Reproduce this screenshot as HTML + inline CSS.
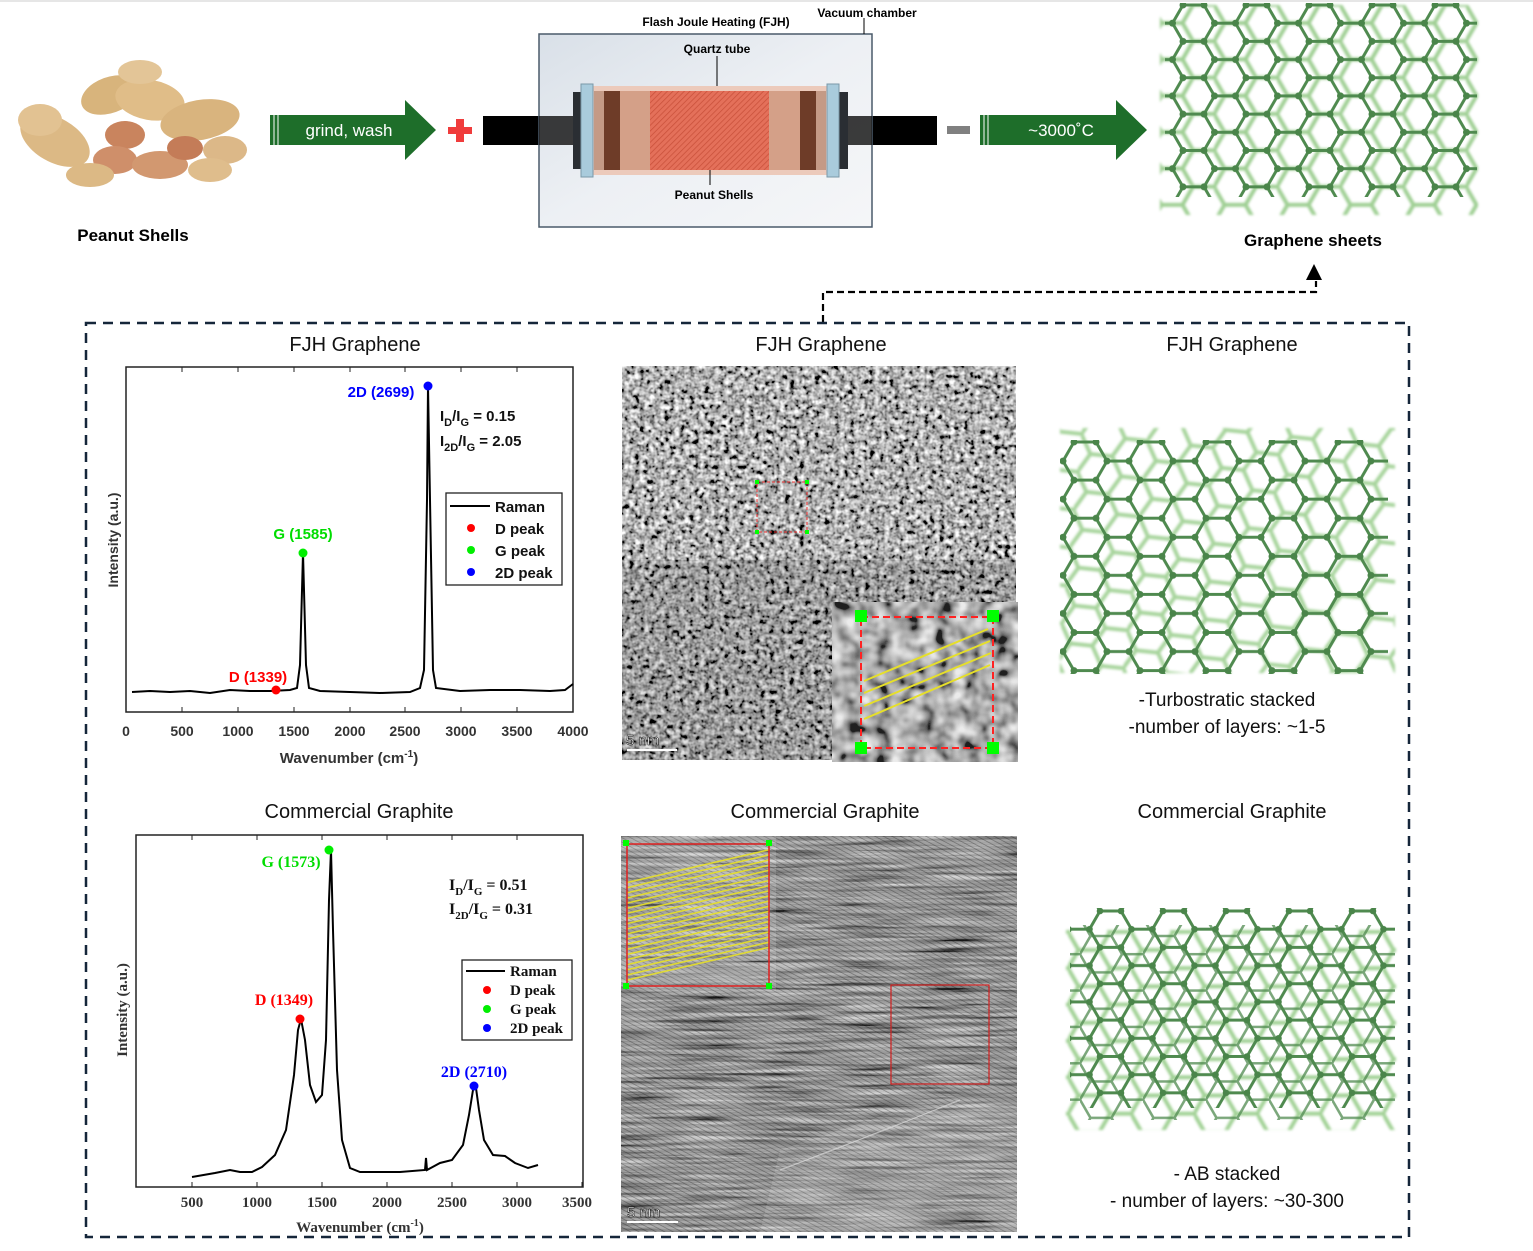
<!DOCTYPE html>
<html><head><meta charset="utf-8"><style>
html,body{margin:0;padding:0;background:#fff;}
svg{display:block;}
.s{font-family:"Liberation Sans",sans-serif;}
.r{font-family:"Liberation Serif",serif;}
</style></head><body>
<svg width="1533" height="1251" viewBox="0 0 1533 1251" xmlns="http://www.w3.org/2000/svg">
<defs>
 <pattern id="hexD" patternUnits="userSpaceOnUse" width="63" height="36.37" x="1172.5" y="5">
  <g stroke="#4f8a4f" stroke-width="3" fill="none">
   <path d="M0,18.19 L10.5,0 L31.5,0 L42,18.19 L31.5,36.37 L10.5,36.37 Z M42,18.19 L63,18.19"/>
  </g>
  <g fill="#4a854a"><circle cx="0" cy="18.19" r="3.5"/><circle cx="63" cy="18.19" r="3.5"/><circle cx="10.5" cy="0" r="3.5"/><circle cx="31.5" cy="0" r="3.5"/><circle cx="42" cy="18.19" r="3.5"/><circle cx="10.5" cy="36.37" r="3.5"/><circle cx="31.5" cy="36.37" r="3.5"/></g>
 </pattern>
 <pattern id="hexL" patternUnits="userSpaceOnUse" width="63" height="36.37" x="1151" y="23">
  <g stroke="#7fbf6f" stroke-width="4" fill="none">
   <path d="M0,18.19 L10.5,0 L31.5,0 L42,18.19 L31.5,36.37 L10.5,36.37 Z M42,18.19 L63,18.19"/>
  </g>
 </pattern>
 <pattern id="hexD2" patternUnits="userSpaceOnUse" width="66" height="38.1" x="1063" y="442">
  <g stroke="#4f8a4f" stroke-width="3" fill="none"><path d="M0,19.05 L11,0 L33,0 L44,19.05 L33,38.1 L11,38.1 Z M44,19.05 L66,19.05"/></g>
  <g fill="#4a854a"><circle cx="0" cy="19.05" r="3.5"/><circle cx="66" cy="19.05" r="3.5"/><circle cx="11" cy="0" r="3.5"/><circle cx="33" cy="0" r="3.5"/><circle cx="44" cy="19.05" r="3.5"/><circle cx="11" cy="38.1" r="3.5"/><circle cx="33" cy="38.1" r="3.5"/></g>
 </pattern>
 <pattern id="hexL2" patternUnits="userSpaceOnUse" width="66" height="38.1" x="1070" y="430" patternTransform="rotate(6 1220 550)">
  <g stroke="#82c272" stroke-width="4" fill="none"><path d="M0,19.05 L11,0 L33,0 L44,19.05 L33,38.1 L11,38.1 Z M44,19.05 L66,19.05"/></g>
 </pattern>
 <pattern id="hexD3" patternUnits="userSpaceOnUse" width="63" height="36.37" x="1089.5" y="911">
  <g stroke="#4f8a4f" stroke-width="3" fill="none"><path d="M0,18.19 L10.5,0 L31.5,0 L42,18.19 L31.5,36.37 L10.5,36.37 Z M42,18.19 L63,18.19"/></g>
  <g fill="#4a854a"><circle cx="0" cy="18.19" r="3.3"/><circle cx="63" cy="18.19" r="3.3"/><circle cx="10.5" cy="0" r="3.3"/><circle cx="31.5" cy="0" r="3.3"/><circle cx="42" cy="18.19" r="3.3"/><circle cx="10.5" cy="36.37" r="3.3"/><circle cx="31.5" cy="36.37" r="3.3"/></g>
 </pattern>
 <pattern id="hexD3b" patternUnits="userSpaceOnUse" width="63" height="36.37" x="1080" y="936">
  <g stroke="#4f8a4f" stroke-width="2.6" fill="none"><path d="M0,18.19 L10.5,0 L31.5,0 L42,18.19 L31.5,36.37 L10.5,36.37 Z M42,18.19 L63,18.19"/></g>
 </pattern>
 <pattern id="hexL3" patternUnits="userSpaceOnUse" width="63" height="36.37" x="1068" y="950">
  <g stroke="#82c272" stroke-width="4" fill="none"><path d="M0,18.19 L10.5,0 L31.5,0 L42,18.19 L31.5,36.37 L10.5,36.37 Z M42,18.19 L63,18.19"/></g>
 </pattern>
 <filter id="blur1"><feGaussianBlur stdDeviation="1.2"/></filter>
 <filter id="tem1" x="0" y="0" width="100%" height="100%">
  <feTurbulence type="fractalNoise" baseFrequency="0.2" numOctaves="2" seed="3"/>
  <feColorMatrix type="matrix" values="0.33 0.33 0.33 0 0 0.33 0.33 0.33 0 0 0.33 0.33 0.33 0 0 0 0 0 0 1"/>
  <feComponentTransfer><feFuncR type="linear" slope="3.2" intercept="-1.15"/><feFuncG type="linear" slope="3.2" intercept="-1.15"/><feFuncB type="linear" slope="3.2" intercept="-1.15"/></feComponentTransfer>
 </filter>
 <filter id="tem2" x="0" y="0" width="100%" height="100%">
  <feTurbulence type="fractalNoise" baseFrequency="0.012 0.3" numOctaves="3" seed="7"/>
  <feColorMatrix type="matrix" values="0.33 0.33 0.33 0 0 0.33 0.33 0.33 0 0 0.33 0.33 0.33 0 0 0 0 0 0 1"/>
  <feComponentTransfer><feFuncR type="linear" slope="1.5" intercept="-0.42"/><feFuncG type="linear" slope="1.5" intercept="-0.42"/><feFuncB type="linear" slope="1.5" intercept="-0.42"/></feComponentTransfer>
 </filter>
 <pattern id="hatch" patternUnits="userSpaceOnUse" width="4" height="4" patternTransform="rotate(45)">
  <rect width="4" height="4" fill="#e4705a"/><line x1="0" y1="0" x2="0" y2="4" stroke="#c8503a" stroke-width="1.5"/>
 </pattern>
 <pattern id="fringe" patternUnits="userSpaceOnUse" width="4" height="4" patternTransform="rotate(-62)">
  <line x1="0" y1="0" x2="0" y2="4" stroke="#000" stroke-width="1.4" opacity="0.35"/>
 </pattern>
 <pattern id="ylines" patternUnits="userSpaceOnUse" width="40" height="5" patternTransform="rotate(-13)">
  <line x1="0" y1="1" x2="40" y2="1" stroke="#e6df2a" stroke-width="1.6"/>
 </pattern>
 <linearGradient id="chamber" x1="0" y1="0" x2="1" y2="1"><stop offset="0" stop-color="#d9e0e8"/><stop offset="0.5" stop-color="#edf0f4"/><stop offset="1" stop-color="#f5f6f8"/></linearGradient>
 <clipPath id="c1"><rect x="622" y="366" width="394" height="394"/></clipPath>
 <clipPath id="c2"><rect x="621" y="836" width="396" height="396"/></clipPath>
 <clipPath id="c3"><path d="M627,880 L769,848 L769,950 L627,982 Z"/></clipPath>
</defs>

<line x1="0" y1="1" x2="1533" y2="1" stroke="#e6e6e6" stroke-width="2"/>

<!-- peanuts -->
<g>
 <ellipse cx="55" cy="140" rx="38" ry="22" fill="#dcb985" transform="rotate(30 55 140)"/>
 <ellipse cx="40" cy="120" rx="22" ry="16" fill="#e2c292"/>
 <ellipse cx="110" cy="95" rx="30" ry="18" fill="#d8b47c" transform="rotate(-20 110 95)"/>
 <ellipse cx="150" cy="100" rx="35" ry="20" fill="#e0bd88" transform="rotate(10 150 100)"/>
 <ellipse cx="200" cy="120" rx="40" ry="20" fill="#d9b47e" transform="rotate(-10 200 120)"/>
 <ellipse cx="225" cy="150" rx="22" ry="14" fill="#dcb888"/>
 <ellipse cx="125" cy="135" rx="20" ry="14" fill="#c9845e"/>
 <ellipse cx="115" cy="160" rx="22" ry="14" fill="#cf8f6a"/>
 <ellipse cx="160" cy="165" rx="28" ry="14" fill="#d29870"/>
 <ellipse cx="185" cy="148" rx="18" ry="12" fill="#c47c58"/>
 <ellipse cx="90" cy="175" rx="24" ry="12" fill="#dcb985"/>
 <ellipse cx="210" cy="170" rx="22" ry="12" fill="#dfbd8c"/>
 <ellipse cx="140" cy="72" rx="22" ry="12" fill="#e3c597"/>
</g>
<text x="133" y="241" class="s" font-size="17" font-weight="bold" text-anchor="middle">Peanut Shells</text>

<!-- arrow 1 -->
<path d="M270,115 L405,115 L405,100 L436,130 L405,160 L405,145 L270,145 Z" fill="#1e6e2a"/>
<line x1="274" y1="115" x2="274" y2="145" stroke="#fff" stroke-width="1"/>
<line x1="278" y1="115" x2="278" y2="145" stroke="#fff" stroke-width="1"/>
<text x="349" y="136" class="s" font-size="17" fill="#fff" text-anchor="middle">grind, wash</text>
<rect x="448" y="127" width="24" height="7" fill="#f03c3c"/><rect x="456" y="119" width="8" height="23" fill="#f03c3c"/>

<!-- rods -->
<rect x="483" y="116" width="94" height="29" fill="#000"/>
<rect x="840" y="116" width="97" height="29" fill="#000"/>
<!-- chamber -->
<rect x="539" y="34" width="333" height="193" fill="url(#chamber)" stroke="#4a5a6a" stroke-width="1.5"/>
<rect x="539" y="116" width="36" height="29" fill="#1a1a1a" opacity="0.85"/>
<rect x="847" y="116" width="25" height="29" fill="#1a1a1a" opacity="0.85"/>
<rect x="573" y="92" width="10" height="77" fill="#2a2e33"/>
<rect x="838" y="92" width="10" height="77" fill="#2a2e33"/>
<rect x="593" y="86" width="234" height="89" fill="#eccabb"/>
<rect x="594" y="91" width="10" height="79" fill="#c49a86"/>
<rect x="604" y="91" width="16" height="79" fill="#6e3c28"/>
<rect x="620" y="91" width="30" height="79" fill="#d4a088"/>
<rect x="650" y="91" width="119" height="79" fill="url(#hatch)"/>
<rect x="769" y="91" width="31" height="79" fill="#d4a088"/>
<rect x="800" y="91" width="16" height="79" fill="#6e3c28"/>
<rect x="816" y="91" width="10" height="79" fill="#c49a86"/>
<rect x="581" y="84" width="12" height="93" fill="#a9cbdc" stroke="#7a98a8"/>
<rect x="827" y="84" width="12" height="93" fill="#a9cbdc" stroke="#7a98a8"/>
<line x1="717" y1="56" x2="717" y2="86" stroke="#000"/>
<line x1="710" y1="170" x2="710" y2="185" stroke="#000"/>
<line x1="864" y1="18" x2="864" y2="34" stroke="#000"/>
<text x="717" y="53" class="s" font-size="12" font-weight="bold" text-anchor="middle">Quartz tube</text>
<text x="714" y="199" class="s" font-size="12" font-weight="bold" text-anchor="middle">Peanut Shells</text>
<text x="716" y="26" class="s" font-size="12" font-weight="bold" text-anchor="middle">Flash Joule Heating (FJH)</text>
<text x="867" y="17" class="s" font-size="12" font-weight="bold" text-anchor="middle">Vacuum chamber</text>
<rect x="947" y="126" width="23" height="8" fill="#808080"/>

<!-- arrow 2 -->
<path d="M980,115 L1116,115 L1116,100 L1147,130 L1116,160 L1116,145 L980,145 Z" fill="#1e6e2a"/>
<line x1="984" y1="115" x2="984" y2="145" stroke="#fff" stroke-width="1"/>
<line x1="988" y1="115" x2="988" y2="145" stroke="#fff" stroke-width="1"/>
<text x="1061" y="136" class="s" font-size="17" fill="#fff" text-anchor="middle">~3000˚C</text>

<!-- graphene sheets top -->
<rect x="1160" y="5" width="318" height="210" fill="url(#hexL)" opacity="0.75" filter="url(#blur1)"/>
<rect x="1165" y="3" width="312" height="194" fill="url(#hexD)"/>
<text x="1313" y="246" class="s" font-size="17" font-weight="bold" text-anchor="middle">Graphene sheets</text>
<path d="M1306,280 L1322,280 L1314,264 Z" fill="#000"/>
<path d="M823,322 L823,292 L1316,292 L1316,281" fill="none" stroke="#000" stroke-width="2.2" stroke-dasharray="7,4"/>

<!-- dashed box -->
<rect x="86" y="323" width="1323" height="914" fill="none" stroke="#15263a" stroke-width="2.5" stroke-dasharray="10,7"/>

<!-- titles -->
<g class="s" font-size="20" text-anchor="middle" fill="#111">
<text x="355" y="351">FJH Graphene</text>
<text x="821" y="351">FJH Graphene</text>
<text x="1232" y="351">FJH Graphene</text>
<text x="359" y="818">Commercial Graphite</text>
<text x="825" y="818">Commercial Graphite</text>
<text x="1232" y="818">Commercial Graphite</text>
</g>

<!-- Raman 1 -->
<rect x="126" y="367" width="447" height="345" fill="none" stroke="#222" stroke-width="1.5"/>
<g stroke="#222" stroke-width="1">
<line x1="182" y1="712" x2="182" y2="707"/><line x1="238" y1="712" x2="238" y2="707"/><line x1="294" y1="712" x2="294" y2="707"/><line x1="350" y1="712" x2="350" y2="707"/><line x1="405" y1="712" x2="405" y2="707"/><line x1="461" y1="712" x2="461" y2="707"/><line x1="517" y1="712" x2="517" y2="707"/>
<line x1="182" y1="367" x2="182" y2="372"/><line x1="238" y1="367" x2="238" y2="372"/><line x1="294" y1="367" x2="294" y2="372"/><line x1="350" y1="367" x2="350" y2="372"/><line x1="405" y1="367" x2="405" y2="372"/><line x1="461" y1="367" x2="461" y2="372"/><line x1="517" y1="367" x2="517" y2="372"/>
</g>
<path d="M132,692 L150,691 L170,692 L190,691 L210,693 L230,690 L250,691 L270,691 L290,690 L297,688 L300,665 L303,553 L306,665 L309,688 L320,691 L350,692 L380,693 L410,692 L420,688 L424,670 L427,500 L428,386 L430,500 L433,670 L436,688 L460,691 L490,690 L520,690 L550,691 L565,690 L573,684" fill="none" stroke="#000" stroke-width="2"/>
<circle cx="276" cy="690" r="4.5" fill="#f00"/>
<circle cx="303" cy="553" r="4.5" fill="#0e0"/>
<circle cx="428" cy="386" r="4.5" fill="#00f"/>
<g class="s" font-size="15" font-weight="bold">
<text x="258" y="682" fill="#f00" text-anchor="middle">D (1339)</text>
<text x="303" y="539" fill="#0d0" text-anchor="middle">G (1585)</text>
<text x="381" y="397" fill="#00f" text-anchor="middle">2D (2699)</text>
<text x="440" y="421" fill="#111">I<tspan font-size="11" dy="5">D</tspan><tspan dy="-5">/I</tspan><tspan font-size="11" dy="5">G</tspan><tspan dy="-5"> = 0.15</tspan></text>
<text x="440" y="446" fill="#111">I<tspan font-size="11" dy="5">2D</tspan><tspan dy="-5">/I</tspan><tspan font-size="11" dy="5">G</tspan><tspan dy="-5"> = 2.05</tspan></text>
</g>
<rect x="446" y="493" width="116" height="92" fill="#fff" stroke="#222" stroke-width="1.3"/>
<line x1="450" y1="506" x2="490" y2="506" stroke="#000" stroke-width="2"/>
<circle cx="471" cy="528" r="4" fill="#f00"/><circle cx="471" cy="550" r="4" fill="#0e0"/><circle cx="471" cy="572" r="4" fill="#00f"/>
<g class="s" font-size="15" font-weight="bold" fill="#111">
<text x="495" y="512">Raman</text><text x="495" y="534">D peak</text><text x="495" y="556">G peak</text><text x="495" y="578">2D peak</text>
</g>
<g class="s" font-size="14" font-weight="bold" fill="#333" text-anchor="middle">
<text x="126" y="736">0</text><text x="182" y="736">500</text><text x="238" y="736">1000</text><text x="294" y="736">1500</text><text x="350" y="736">2000</text><text x="405" y="736">2500</text><text x="461" y="736">3000</text><text x="517" y="736">3500</text><text x="573" y="736">4000</text>
<text x="349" y="763" font-size="15">Wavenumber (cm<tspan font-size="10" dy="-6">-1</tspan><tspan dy="6">)</tspan></text>
<text transform="translate(118 540) rotate(-90)">Intensity (a.u.)</text>
</g>

<!-- Raman 2 -->
<rect x="136" y="835" width="447" height="352" fill="none" stroke="#222" stroke-width="1.5"/>
<g stroke="#222" stroke-width="1">
<line x1="192" y1="1187" x2="192" y2="1182"/><line x1="257" y1="1187" x2="257" y2="1182"/><line x1="322" y1="1187" x2="322" y2="1182"/><line x1="387" y1="1187" x2="387" y2="1182"/><line x1="452" y1="1187" x2="452" y2="1182"/><line x1="517" y1="1187" x2="517" y2="1182"/><line x1="582" y1="1187" x2="582" y2="1182"/>
<line x1="192" y1="835" x2="192" y2="840"/><line x1="257" y1="835" x2="257" y2="840"/><line x1="322" y1="835" x2="322" y2="840"/><line x1="387" y1="835" x2="387" y2="840"/><line x1="452" y1="835" x2="452" y2="840"/><line x1="517" y1="835" x2="517" y2="840"/>
</g>
<path d="M192,1177 L215,1173 L230,1170 L240,1172 L252,1172 L262,1167 L275,1155 L286,1130 L294,1075 L298,1030 L301,1019 L305,1040 L310,1085 L316,1102 L322,1095 L326,1040 L329,900 L331,850 L333,930 L337,1070 L342,1140 L350,1168 L360,1172 L400,1172 L425,1170 L426,1158 L427,1170 L440,1163 L452,1160 L463,1145 L469,1115 L473,1090 L476,1088 L479,1110 L484,1140 L493,1155 L505,1156 L515,1163 L528,1168 L538,1165" fill="none" stroke="#000" stroke-width="2"/>
<circle cx="300" cy="1019" r="4.5" fill="#f00"/>
<circle cx="329" cy="850" r="4.5" fill="#0e0"/>
<circle cx="474" cy="1086" r="4.5" fill="#00f"/>
<g class="r" font-size="16" font-weight="bold">
<text x="284" y="1005" fill="#f00" text-anchor="middle">D (1349)</text>
<text x="291" y="867" fill="#0d0" text-anchor="middle">G (1573)</text>
<text x="474" y="1077" fill="#00f" text-anchor="middle">2D (2710)</text>
<text x="449" y="890" fill="#111">I<tspan font-size="11" dy="5">D</tspan><tspan dy="-5">/I</tspan><tspan font-size="11" dy="5">G</tspan><tspan dy="-5"> = 0.51</tspan></text>
<text x="449" y="914" fill="#111">I<tspan font-size="11" dy="5">2D</tspan><tspan dy="-5">/I</tspan><tspan font-size="11" dy="5">G</tspan><tspan dy="-5"> = 0.31</tspan></text>
</g>
<rect x="462" y="960" width="110" height="80" fill="#fff" stroke="#222" stroke-width="1.3"/>
<line x1="466" y1="971" x2="505" y2="971" stroke="#000" stroke-width="2"/>
<circle cx="487" cy="990" r="4" fill="#f00"/><circle cx="487" cy="1009" r="4" fill="#0e0"/><circle cx="487" cy="1028" r="4" fill="#00f"/>
<g class="r" font-size="15" font-weight="bold" fill="#111">
<text x="510" y="976">Raman</text><text x="510" y="995">D peak</text><text x="510" y="1014">G peak</text><text x="510" y="1033">2D peak</text>
</g>
<g class="r" font-size="15" font-weight="bold" fill="#333" text-anchor="middle">
<text x="192" y="1207">500</text><text x="257" y="1207">1000</text><text x="322" y="1207">1500</text><text x="387" y="1207">2000</text><text x="452" y="1207">2500</text><text x="517" y="1207">3000</text><text x="577" y="1207">3500</text>
<text x="360" y="1232">Wavenumber (cm<tspan font-size="10" dy="-6">-1</tspan><tspan dy="6">)</tspan></text>
<text transform="translate(127 1010) rotate(-90)">Intensity (a.u.)</text>
</g>

<!-- TEM 1 -->
<g clip-path="url(#c1)">
<rect x="622" y="366" width="394" height="394" filter="url(#tem1)"/>
<rect x="622" y="560" width="394" height="200" fill="#000" opacity="0.12"/>
</g>
<rect x="757" y="482" width="50" height="50" fill="none" stroke="#e33" stroke-width="1" stroke-dasharray="3,2"/>
<rect x="755" y="480" width="4" height="4" fill="#0f0"/><rect x="805" y="480" width="4" height="4" fill="#0f0"/><rect x="755" y="530" width="4" height="4" fill="#0f0"/><rect x="805" y="530" width="4" height="4" fill="#0f0"/>
<g>
<svg x="832" y="602" width="186" height="160" viewBox="0 0 62 53" preserveAspectRatio="none"><rect width="62" height="53" filter="url(#tem1)"/></svg>
<rect x="832" y="602" width="186" height="160" fill="#999" opacity="0.2"/>
</g>
<rect x="861" y="617" width="132" height="131" fill="none" stroke="#f22" stroke-width="2" stroke-dasharray="7,4"/>
<g stroke="#e6df2a" stroke-width="2">
<line x1="864" y1="681" x2="988" y2="629"/><line x1="864" y1="693" x2="990" y2="641"/><line x1="864" y1="706" x2="991" y2="653"/><line x1="864" y1="719" x2="990" y2="665"/>
</g>
<rect x="855" y="610" width="12" height="12" fill="#0f0"/><rect x="987" y="610" width="12" height="12" fill="#0f0"/><rect x="855" y="742" width="12" height="12" fill="#0f0"/><rect x="987" y="742" width="12" height="12" fill="#0f0"/>
<text x="626" y="745" class="s" font-size="15" fill="#fff" stroke="#000" stroke-width="0.5">5 nm</text>
<line x1="627" y1="750" x2="677" y2="750" stroke="#fff" stroke-width="2"/>

<!-- TEM 2 -->
<g clip-path="url(#c2)">
<rect x="621" y="836" width="396" height="396" filter="url(#tem2)"/>
<rect x="621" y="836" width="396" height="396" fill="url(#fringe)"/>
<path d="M760,1232 L780,1150 L900,1110 L1017,1100 L1017,1232 Z" fill="#fff" opacity="0.12"/>
<path d="M780,1170 Q860,1140 960,1100" stroke="#ddd" stroke-width="1.2" fill="none" opacity="0.7"/>
</g>
<rect x="621" y="836" width="155" height="155" fill="#fff" opacity="0.15"/>
<rect x="627" y="844" width="142" height="142" fill="url(#ylines)" clip-path="url(#c3)"/>
<rect x="627" y="844" width="142" height="142" fill="none" stroke="#e02020" stroke-width="1.5"/>
<rect x="623" y="840" width="6" height="6" fill="#0f0"/><rect x="766" y="840" width="6" height="6" fill="#0f0"/><rect x="623" y="983" width="6" height="6" fill="#0f0"/><rect x="766" y="983" width="6" height="6" fill="#0f0"/>
<rect x="891" y="985" width="98" height="99" fill="none" stroke="#d02020" stroke-width="1.2"/>
<text x="627" y="1217" class="s" font-size="15" fill="#fff" stroke="#000" stroke-width="0.5">5 nm</text>
<line x1="627" y1="1222" x2="678" y2="1222" stroke="#fff" stroke-width="2"/>

<!-- lattice mid -->
<rect x="1060" y="428" width="335" height="245" fill="url(#hexL2)" opacity="0.7" filter="url(#blur1)"/>
<rect x="1060" y="440" width="328" height="234" fill="url(#hexD2)"/>
<g class="s" font-size="19" fill="#111" text-anchor="middle">
<text x="1227" y="706">-Turbostratic stacked</text>
<text x="1227" y="733">-number of layers: ~1-5</text>
</g>

<!-- lattice bottom -->
<rect x="1066" y="930" width="330" height="200" fill="url(#hexL3)" opacity="0.75" filter="url(#blur1)"/>
<rect x="1070" y="925" width="325" height="195" fill="url(#hexD3b)" opacity="0.75"/>
<rect x="1070" y="908" width="325" height="200" fill="url(#hexD3)"/>
<g class="s" font-size="19" fill="#111" text-anchor="middle">
<text x="1227" y="1180">- AB stacked</text>
<text x="1227" y="1207">- number of layers: ~30-300</text>
</g>
</svg>
</body></html>
